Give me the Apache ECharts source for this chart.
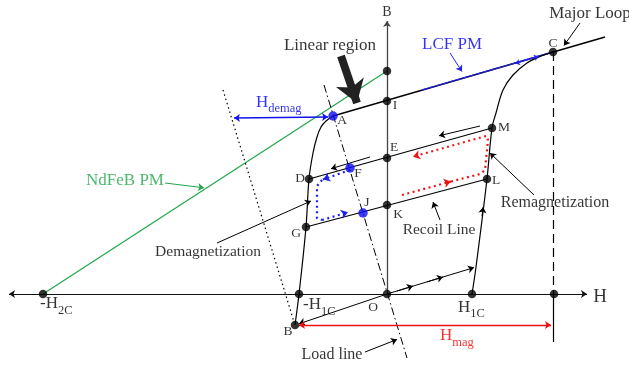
<!DOCTYPE html>
<html><head><meta charset="utf-8">
<script src="https://cdn.jsdelivr.net/npm/echarts@6/dist/echarts.min.js"></script>
<style>html,body{margin:0;padding:0;background:#fff}#c{width:629px;height:369px}</style>
</head><body><div id="c"></div>
<script>
// ---- key points (H, B) in diagram units, origin at O ----
const ptO=[0,0], ptC=[166,242], ptBtop=[0,223], ptI=[0,193], ptE=[0,136], ptK=[0,89];
const ptM=[105,166], ptL=[100,115], ptD=[-78,115], ptG=[-81,67];
const ptH2C=[-344,0], ptH1Cn=[-88,0], ptH1C=[85,0], ptHaxis=[167,0], ptB=[-92,-31];
const ptA=[-54,178], ptF=[-37,126], ptJ=[-24,81];
const blackDots=[ptC,ptBtop,ptI,ptE,ptK,ptO,ptM,ptL,ptD,ptG,ptH2C,ptH1Cn,ptH1C,ptHaxis,ptB];
const blueDots=[ptA,ptF,ptJ];

// ---- curves and lines ----
const majorLine=[ptA,[218,257]];
const lcfLine=[[35,204],[164,241.5]];
const ndfebLine=[ptH2C,ptBtop];
const loopLeft=[ptB,ptH1Cn,ptG,ptD,[-74,141],[-70,157],[-66,167],[-61,173],ptA];
const loopRight=[ptH1C,[89,27],ptL,ptM,[109,181],[116,204],[126,219],[140,231],[153,237.5],ptC];
const recoilUpper=[ptD,ptM];
const recoilLower=[ptG,ptL];
const dashedUp=[ptC,[166,0]];
const solidDown=[[166,0],[166,-48]];
const dottedLine=[[-164,204],[-93,-28]];
const loadLine=[[-63,209],[20,-64]];
const hAxis=[[-378,0],[200,0]];
const bAxis=[[0,0],[0,273]];
const oToB=[ptO,[-88,-29.8]];
const oToUp=[ptO,[87,26.4]];
const oUpMid1=[[10,3],[26,7.9]];
const oUpMid2=[[40,12.1],[56,17]];
const hMag=[[-88,-31],[164,-31]];
const hDemag=[[-153,176],[-59,177]];
const lcfArrL=[[140,234],[128,230.5]];
const lcfArrR=[[140,234],[152,237.5]];
const blueDot1=[[-37,124],[-64,114.5]];
const blueDot2=[[-65,114],[-70,108],[-70,76],[-65,74]];
const blueDot3=[[-65,74],[-39,81.7]];
const redDot1=[[15,99],[64,112.5]];
const redDot2=[[64,112.5],[93,120],[98,124],[101,154],[99,158]];
const redDot3=[[99,158],[26,137.3]];
const smallArr1=[[-17,137],[-56,125.3]];
const smallArr2=[[93,168],[52,158.2]];
const upArr=[[95,78],[96.2,87]];
const annDemag=[[-170,51],[-76,93]];
const annRecoil=[[53,74],[46,92]];
const annRemag=[[147,99],[103,141]];
const annLoad=[[-22,-58],[10,-45.5]];
const annLCF=[[63,241],[75,222.5]];
const annMajor=[[193,271],[177,248.5]];
const annNdFeB=[[-222,111],[-183,106.2]];
const bigArrow=[[-46,238],[-30,191]];

// ---- texts ----
const pointNames=['A','I','C','E','F','J','K','D','G','M','L','B','O'];
const pointNamePos=[[-45,174],[8,189],[166,251],[7,147],[-29,121],[-20,92],[11,80],[-87,116],[-91,61],[117,167],[109,114],[-99,-37],[-14,-13]];
const captions=['Major Loop','Linear region','LCF PM','NdFeB PM','Demagnetization','Remagnetization','Recoil Line','Load line','B','H'];
const captionPos=[[203,280],[-57,248],[65,249],[-262,113],[-179,42],[168,91],[52,64],[-55,-61],[0,282],[213,-3]];
const captionColor=['#000','#000','#0000ee','#1fa64a','#000','#000','#000','#000','#000','#000'];
const captionSize=[17,17,17,17,15.5,16,15.5,16,14,19];
const subMain=['H','H','-H','-H','H'];
const subText=['demag','mag','2C','1C','1C'];
const subPos=[[-131,191.5],[53,-42],[-347,-10],[-84,-11],[71,-13.5]];
const subColor=['#0000ee','#ee0000','#000','#000','#000'];

const FONT='Liberation Serif';
function seg(list,color,width,type,symbol,size,z){
  const poly=list.some(c=>c.length>2);
  return {type:'lines',coordinateSystem:'cartesian2d',polyline:poly,silent:true,z:z||3,
    symbol:symbol||'none',symbolSize:size||6,
    lineStyle:{color:color,width:width,type:type||'solid',opacity:1,curveness:0},
    data:list.map(c=>({coords:c}))};
}
function curve(pts){
  return {type:'line',data:pts,smooth:0.35,showSymbol:false,silent:true,z:3,
    lineStyle:{color:'#000',width:1.2}};
}
const END=['none','arrow'];
const BOTH=['arrow','arrow'];
const labelData=[];
pointNames.forEach((t,i)=>labelData.push({value:pointNamePos[i],label:{formatter:t,fontSize:13.5,color:'#000'}}));
captions.forEach((t,i)=>labelData.push({value:captionPos[i],label:{formatter:t,fontSize:captionSize[i],color:captionColor[i]}}));
subMain.forEach((t,i)=>labelData.push({value:subPos[i],label:{align:'left',formatter:'{m|'+t+'}{s|'+subText[i]+'}',
  rich:{m:{fontSize:17,fontFamily:FONT,color:subColor[i],lineHeight:26,verticalAlign:'middle'},
        s:{fontSize:12.5,fontFamily:FONT,color:subColor[i],lineHeight:26,verticalAlign:'bottom'}}}}));

const option={
  animation:false,
  grid:{left:0,right:0,top:0,bottom:0},
  xAxis:{type:'value',min:-387,max:242,show:false},
  yAxis:{type:'value',min:-75,max:294,show:false},
  series:[
    seg([hAxis],'#111',1.2,'solid',BOTH,6),
    seg([bAxis],'#444',1.3,'solid',END,6),
    seg([ndfebLine],'#1fa64a',1.2),
    seg([majorLine],'#000',1.4),
    seg([lcfLine],'#2222ee',1.4,[6,1]),
    seg([lcfArrL,lcfArrR],'#2222ee',1,'solid',END,5,4),
    curve(loopLeft),
    curve(loopRight),
    seg([recoilUpper,recoilLower],'#000',1.2),
    seg([dashedUp],'#000',1.2,[9,5]),
    seg([solidDown],'#000',1.2),
    seg([dottedLine],'#000',1.2,[1.5,3]),
    seg([loadLine],'#000',1,[8,3,1.5,3]),
    seg([oToB,oToUp],'#000',1,'solid',END,6),
    seg([oUpMid1,oUpMid2],'#000',1,'solid',END,6),
    seg([hMag],'#ee1111',1.3,'solid',BOTH,6),
    seg([hDemag],'#1111ee',1.3,'solid',BOTH,6),
    seg([blueDot1,blueDot3],'#1f1fee',2.2,[2,3.5],END,7),
    seg([blueDot2],'#1f1fee',2.2,[2,3.5]),
    seg([redDot1,redDot3],'#ee1515',2.2,[2,3.5],END,7),
    seg([redDot2],'#ee1515',2.2,[2,3.5]),
    seg([smallArr1,smallArr2,upArr,annDemag,annRecoil,annRemag,annLoad,annMajor],'#000',1,'solid',END,6),
    seg([annLCF],'#2222ee',1,'solid',END,6),
    seg([annNdFeB],'#1fa64a',1,'solid',END,6),
    seg([bigArrow],'#222',8,'solid',END,22,5),
    {type:'scatter',data:blackDots,symbolSize:8.5,itemStyle:{color:'#000'},silent:true,z:6},
    {type:'scatter',data:blueDots,symbolSize:9.5,itemStyle:{color:'#0b0bf0'},silent:true,z:6},
    {type:'scatter',data:labelData,symbolSize:0,silent:true,z:7,
      label:{show:true,position:'inside',fontFamily:FONT,color:'#000'}}
  ]
};
const chart=echarts.init(document.getElementById('c'),null,{renderer:'canvas'});
chart.setOption(option);
</script></body></html>
